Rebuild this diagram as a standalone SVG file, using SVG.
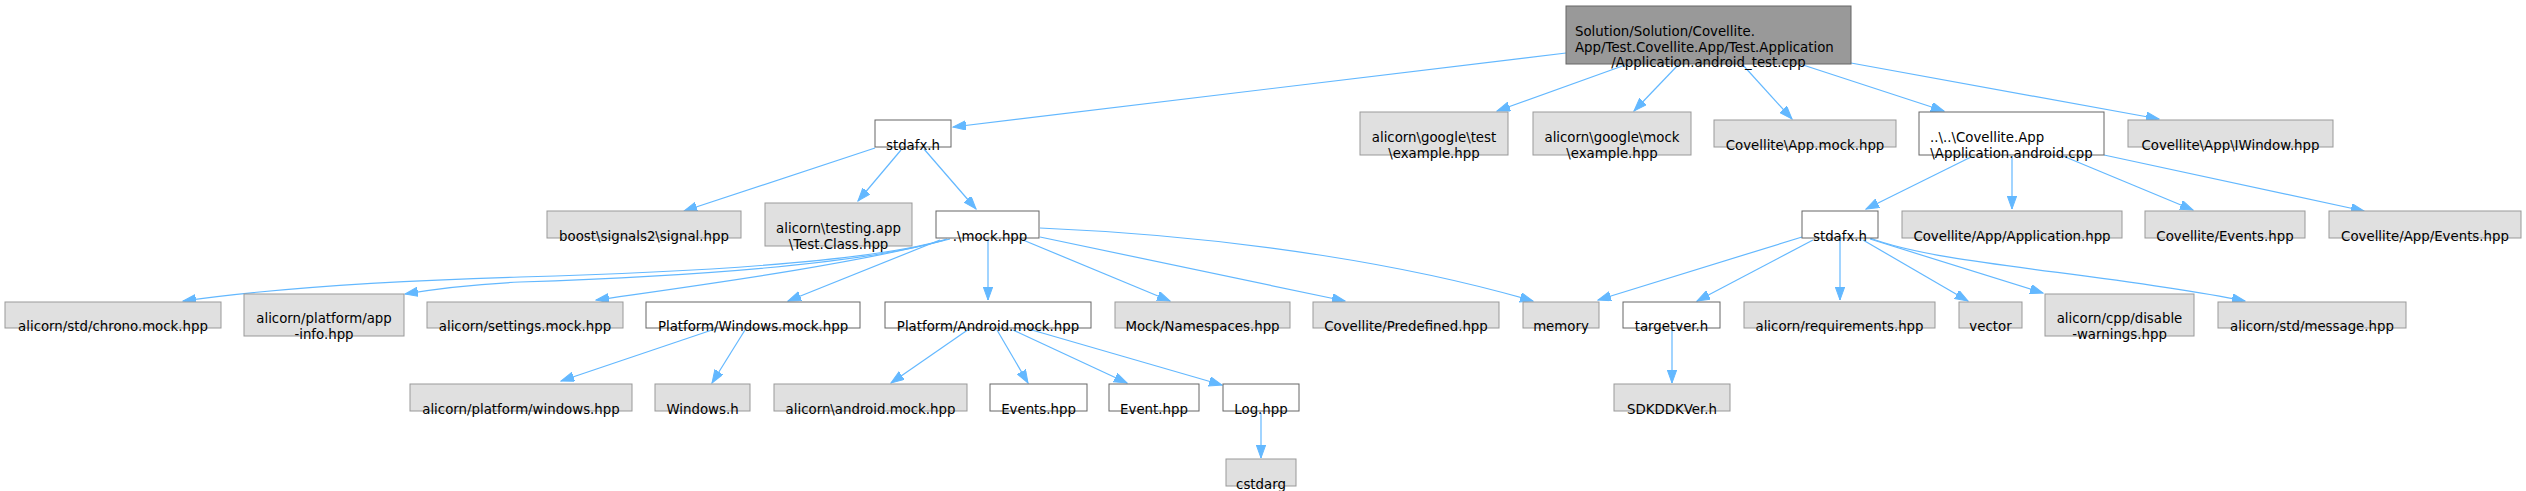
<svg xmlns="http://www.w3.org/2000/svg" width="2526" height="491" viewBox="0 0 2526 491">
<style>
text{font-family:"DejaVu Sans","Liberation Sans",sans-serif;font-size:13.33px;fill:#000;text-anchor:middle}
text.s{text-anchor:start}
.w{fill:#fff;stroke:#666;stroke-width:1}
.g{fill:#e0e0e0;stroke:#999;stroke-width:1}
.r{fill:#999;stroke:#666;stroke-width:1}
#edges path{fill:none;stroke:#63b8ff;stroke-width:1.2;marker-end:url(#ah)}
</style>
<defs>
<marker id="ah" markerUnits="userSpaceOnUse" markerWidth="14" markerHeight="10" refX="13" refY="4.7" orient="auto" viewBox="0 0 14 10">
<path d="M0,0 L13,4.7 L0,9.4 z" fill="#63b8ff" stroke="#63b8ff" stroke-width="1"/>
</marker>
</defs>
<rect width="2526" height="491" fill="#fff"/>
<g id="edges">
<path d="M1566,53 L953,127"/>
<path d="M1628,64 L1497,111"/>
<path d="M1679,64 L1634,111"/>
<path d="M1742,64 L1792,119"/>
<path d="M1800,64 L1944,111"/>
<path d="M1851,63 L2159,119"/>
<path d="M1971,157 L1866,209"/>
<path d="M2012,156 L2012,209"/>
<path d="M2063,156 L2193,210"/>
<path d="M2104,155 L2364,211"/>
<path d="M875,148 L684,211"/>
<path d="M901,150 L858,201"/>
<path d="M924,149 L976,209"/>
<path d="M947,239 C870,262 700,272 520,277 C380,281 260,290 183,301"/>
<path d="M945,240 C860,264 700,276 520,282 C480,284 440,288 405,294"/>
<path d="M950,239 C850,265 700,285 596,300"/>
<path d="M940,240 L788,301"/>
<path d="M988,240 L988,300"/>
<path d="M1023,240 L1170,301"/>
<path d="M1040,237 L1345,301"/>
<path d="M1040,228 C1250,237 1420,268 1533,301"/>
<path d="M715,329 L561,381"/>
<path d="M745,330 L712,383"/>
<path d="M969,329 L891,383"/>
<path d="M997,330 L1028,383"/>
<path d="M1013,330 L1127,383"/>
<path d="M1025,328 L1222,385"/>
<path d="M1261,413 L1261,458"/>
<path d="M1802,237 L1598,300"/>
<path d="M1813,240 L1697,301"/>
<path d="M1840,240 L1840,300"/>
<path d="M1863,240 L1968,301"/>
<path d="M1870,239 L2043,293"/>
<path d="M1870,238 C1940,265 2100,272 2245,301"/>
<path d="M1672,330 L1672,383"/>
</g>
<g id="n1"><rect class="r" x="1566" y="6" width="285" height="58"/><text class="s" x="1575" y="35.5">Solution/Solution/Covellite.</text><text class="s" x="1575" y="51.5">App/Test.Covellite.App/Test.Application</text><text x="1708.5" y="67">/Application.android_test.cpp</text></g>
<g id="n2"><rect class="w" x="875" y="120" width="76" height="27"/><text x="913" y="150">stdafx.h</text></g>
<g id="n3"><rect class="g" x="1360" y="112" width="148" height="43"/><text x="1434" y="142">alicorn\google\test</text><text x="1434" y="158">\example.hpp</text></g>
<g id="n4"><rect class="g" x="1533" y="112" width="158" height="43"/><text x="1612" y="142">alicorn\google\mock</text><text x="1612" y="158">\example.hpp</text></g>
<g id="n5"><rect class="g" x="1714" y="120" width="182" height="27"/><text x="1805" y="150">Covellite\App.mock.hpp</text></g>
<g id="n6"><rect class="w" x="1919" y="112" width="185" height="43"/><text class="s" x="1930" y="142">..\..\Covellite.App</text><text x="2011.5" y="158">\Application.android.cpp</text></g>
<g id="n7"><rect class="g" x="2128" y="120" width="205" height="27"/><text x="2230.5" y="150">Covellite\App\IWindow.hpp</text></g>
<g id="n8"><rect class="g" x="547" y="211" width="194" height="27"/><text x="644" y="241">boost\signals2\signal.hpp</text></g>
<g id="n9"><rect class="g" x="765" y="203" width="147" height="43"/><text x="838.5" y="233">alicorn\testing.app</text><text x="838.5" y="249">\Test.Class.hpp</text></g>
<g id="n10"><rect class="w" x="936" y="211" width="103" height="27"/><text x="990" y="241">.\mock.hpp</text></g>
<g id="n11"><rect class="g" x="5" y="302" width="216" height="26"/><text x="113" y="331">alicorn/std/chrono.mock.hpp</text></g>
<g id="n12"><rect class="g" x="244" y="294" width="160" height="42"/><text x="324" y="323">alicorn/platform/app</text><text x="324" y="339">-info.hpp</text></g>
<g id="n13"><rect class="g" x="427" y="302" width="196" height="26"/><text x="525" y="331">alicorn/settings.mock.hpp</text></g>
<g id="n14"><rect class="w" x="646" y="302" width="214" height="26"/><text x="753" y="331">Platform/Windows.mock.hpp</text></g>
<g id="n15"><rect class="w" x="885" y="302" width="206" height="26"/><text x="988" y="331">Platform/Android.mock.hpp</text></g>
<g id="n16"><rect class="g" x="1115" y="302" width="175" height="26"/><text x="1202.5" y="331">Mock/Namespaces.hpp</text></g>
<g id="n17"><rect class="g" x="1313" y="302" width="186" height="26"/><text x="1406" y="331">Covellite/Predefined.hpp</text></g>
<g id="n18"><rect class="g" x="1523" y="302" width="76" height="26"/><text x="1561" y="331">memory</text></g>
<g id="n19"><rect class="g" x="410" y="384" width="222" height="27"/><text x="521" y="414">alicorn/platform/windows.hpp</text></g>
<g id="n20"><rect class="g" x="655" y="384" width="95" height="27"/><text x="702.5" y="414">Windows.h</text></g>
<g id="n21"><rect class="g" x="774" y="384" width="193" height="27"/><text x="870.5" y="414">alicorn\android.mock.hpp</text></g>
<g id="n22"><rect class="w" x="990" y="384" width="97" height="27"/><text x="1038.5" y="414">Events.hpp</text></g>
<g id="n23"><rect class="w" x="1109" y="384" width="90" height="27"/><text x="1154" y="414">Event.hpp</text></g>
<g id="n24"><rect class="w" x="1223" y="384" width="76" height="27"/><text x="1261" y="414">Log.hpp</text></g>
<g id="n25"><rect class="g" x="1226" y="459" width="70" height="27"/><text x="1261" y="489">cstdarg</text></g>
<g id="n26"><rect class="w" x="1802" y="211" width="76" height="27"/><text x="1840" y="241">stdafx.h</text></g>
<g id="n27"><rect class="g" x="1902" y="211" width="220" height="27"/><text x="2012" y="241">Covellite/App/Application.hpp</text></g>
<g id="n28"><rect class="g" x="2145" y="211" width="160" height="27"/><text x="2225" y="241">Covellite/Events.hpp</text></g>
<g id="n29"><rect class="g" x="2329" y="211" width="192" height="27"/><text x="2425" y="241">Covellite/App/Events.hpp</text></g>
<g id="n30"><rect class="w" x="1623" y="302" width="97" height="26"/><text x="1671.5" y="331">targetver.h</text></g>
<g id="n31"><rect class="g" x="1744" y="302" width="191" height="26"/><text x="1839.5" y="331">alicorn/requirements.hpp</text></g>
<g id="n32"><rect class="g" x="1959" y="302" width="63" height="26"/><text x="1990.5" y="331">vector</text></g>
<g id="n33"><rect class="g" x="2045" y="294" width="149" height="42"/><text x="2119.5" y="323">alicorn/cpp/disable</text><text x="2119.5" y="339">-warnings.hpp</text></g>
<g id="n34"><rect class="g" x="2218" y="302" width="188" height="26"/><text x="2312" y="331">alicorn/std/message.hpp</text></g>
<g id="n35"><rect class="g" x="1614" y="384" width="116" height="27"/><text x="1672" y="414">SDKDDKVer.h</text></g>
</svg>
